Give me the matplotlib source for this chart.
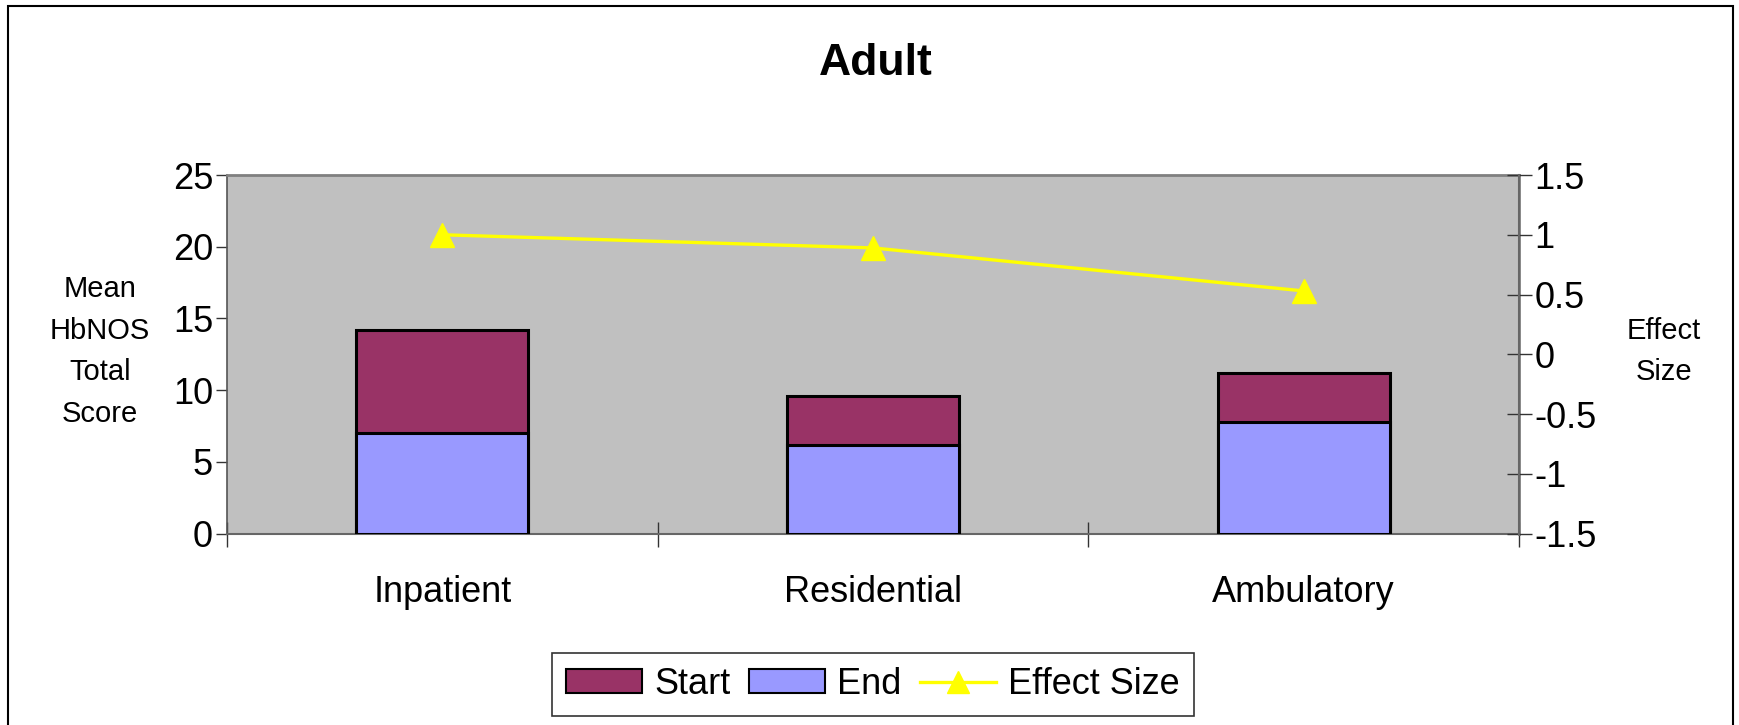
import matplotlib

matplotlib.use("Agg")
import matplotlib.pyplot as plt
from matplotlib.lines import Line2D
from matplotlib.patches import Patch, Rectangle

# data
categories = ["Inpatient", "Residential", "Ambulatory"]
start_scores = [14.2, 9.6, 11.2]
end_scores = [7.0, 6.2, 7.8]
effect_size = [1.0, 0.89, 0.53]
left_ticks = [0, 5, 10, 15, 20, 25]
right_ticks = [-1.5, -1, -0.5, 0, 0.5, 1, 1.5]

C_START = "#993366"
C_END = "#9999ff"
C_LINE = "#ffff00"

plt.rcParams["font.family"] = ["Liberation Sans", "DejaVu Sans"]

fig = plt.figure(figsize=(17.39, 7.25), dpi=100)
ax = fig.add_axes([0.1305, 0.2641, 0.743, 0.4945])
ax.set_facecolor("#c0c0c0")

x = list(range(len(categories)))
# Start and End overlap (Excel 100% overlap), End drawn in front
ax.bar(x, start_scores, width=0.4, color=C_START, edgecolor="black", linewidth=2.2, zorder=2)
ax.bar(x, end_scores, width=0.4, color=C_END, edgecolor="black", linewidth=2.2, zorder=3)

ax.set_xlim(-0.5, 2.5)
ax.set_ylim(0, 25)
ax.set_yticks(left_ticks)
ax.set_yticklabels([str(t) for t in left_ticks], fontsize=26)
ax.set_xticks(x)
ax.set_xticklabels(categories, fontsize=26)
ax.tick_params(axis="x", which="major", length=0, pad=30)
ax.set_xticks([-0.5, 0.5, 1.5, 2.5], minor=True)
ax.tick_params(axis="x", which="minor", direction="inout", length=18, width=1, color="#333333")
ax.tick_params(axis="y", direction="out", length=8, width=1, pad=2, color="#333333")

for s in ["top", "right"]:
    ax.spines[s].set_color("#808080")
    ax.spines[s].set_linewidth(2)
ax.spines["left"].set_color("#555555")
ax.spines["left"].set_linewidth(1.2)
ax.spines["bottom"].set_color("#666666")
ax.spines["bottom"].set_linewidth(1.5)

ax2 = ax.twinx()
ax2.plot(x, effect_size, color=C_LINE, linewidth=2.4, marker="^", markersize=17, zorder=5)
ax2.set_ylim(-1.5, 1.5)
ax2.set_yticks(right_ticks)
ax2.set_yticklabels([f"{t:g}" for t in right_ticks], fontsize=26)
ax2.tick_params(axis="y", direction="inout", length=18, width=1, pad=2, color="#333333")
ax2.spines["right"].set_color("#666666")
ax2.spines["right"].set_linewidth(1.5)
for s in ["top", "left", "bottom"]:
    ax2.spines[s].set_visible(False)

fig.text(0.5035, 0.913, "Adult", ha="center", va="center", fontsize=32, fontweight="bold")
fig.text(0.0575, 0.515, "Mean\nHbNOS\nTotal\nScore", ha="center", va="center",
         fontsize=21, linespacing=1.62)
fig.text(0.957, 0.515, "Effect\nSize", ha="center", va="center", fontsize=21, linespacing=1.62)

handles = [
    Patch(facecolor=C_START, edgecolor="black", linewidth=1.5),
    Patch(facecolor=C_END, edgecolor="black", linewidth=1.5),
    Line2D([], [], color=C_LINE, linewidth=2.4, marker="^", markersize=16),
]
leg = fig.legend(handles, ["Start", "End", "Effect Size"], loc="center", ncol=3,
                 bbox_to_anchor=(0.502, 0.056), fontsize=26, frameon=True, fancybox=False,
                 edgecolor="black", handlelength=2.1, handleheight=0.65, columnspacing=0.5,
                 handletextpad=0.35, borderpad=0.38, borderaxespad=0.0)
leg.get_frame().set_linewidth(1.2)

# outer chart border
fig.patches.append(Rectangle((8 / 1739, -0.1), 1725 / 1739, 1.092, transform=fig.transFigure,
                             fill=False, edgecolor="black", linewidth=1.5))

fig.savefig("out.png", dpi=100, facecolor="white")
